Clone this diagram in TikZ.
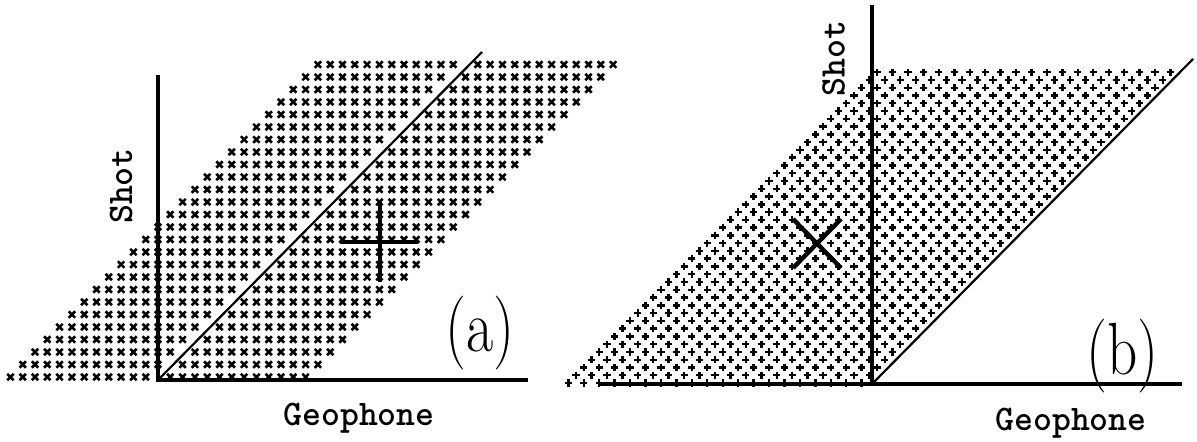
\documentclass[tikz,border=0pt]{standalone}
\usepackage{fontspec}
\begin{document}
\begin{tikzpicture}[x=0.5pt,y=-0.5pt,
  axis/.style={line width=1.8pt},
  diag/.style={line width=1.1pt},
  big/.style={line width=2.2pt},
  lab/.style={font=\fontsize{18}{20}\selectfont\ttfamily\bfseries, inner sep=0pt},
  tag/.style={font=\fontsize{37}{40}\selectfont, inner sep=0pt, xscale=0.8},
  xmk/.pic={\draw[line width=1.3pt] (-3.2,-3.2)--(3.2,3.2) (-3.2,3.2)--(3.2,-3.2);},
  pmk/.pic={\draw[line width=1.2pt] (-3.6,0)--(3.6,0) (0,-3.6)--(0,3.6);}]
\useasboundingbox (0,0) rectangle (1197,441);
% ---- panel (a): x lattice
\foreach \j in {0,...,25}{
  \foreach \k in {0,...,24}{
    \pgfmathtruncatemacro{\i}{\k+\j-12}
    \ifnum\i=\j\else
      \pic at ({158+12.3*\i},{377-12.5*\j}) {xmk};
    \fi
  }
}
% ---- panel (b): + lattice
\foreach \n in {0,...,40}{
  \foreach \k in {0,...,19}{
    \pic at ({568.3+7.72*(\n+2*\k)},{383-7.77*\n}) {pmk};
  }
}
% ---- axes (a)
\coordinate (aO) at (158,380);
\coordinate (aT) at (158,75);
\coordinate (aR) at (528,380);
\coordinate (aD) at (482,52);
\draw[axis] (aT) -- (aO) -- (aR);
\draw[diag] (aO) -- (aD);
% big plus
\coordinate (pL) at (340,242);
\coordinate (pR) at (418,242);
\coordinate (pT) at (380,202);
\coordinate (pB) at (380,282);
\draw[big] (pL) -- (pR) (pT) -- (pB);
% ---- axes (b)
\coordinate (bO) at (872,384);
\coordinate (bT) at (872,5);
\coordinate (bL) at (598,384);
\coordinate (bR) at (1182,384);
\coordinate (bD) at (1193,59);
\draw[axis] (bT) -- (bO);
\draw[axis] (bL) -- (bR);
\draw[diag] (bO) -- (bD);
% big X
\coordinate (x1) at (793,219);
\coordinate (x2) at (841,268);
\coordinate (x3) at (841,219);
\coordinate (x4) at (793,268);
\draw[big] (x1) -- (x2) (x3) -- (x4);
% ---- labels
\node[lab, rotate=90] (shotA) at (121,186) {Shot};
\node[lab, anchor=base west] (geoA) at (283,425) {Geophone};
\node[tag] (tagA) at (480,333.5) {(a)};
\node[lab, rotate=90] (shotB) at (833.5,58.5) {Shot};
\node[lab, anchor=base west] (geoB) at (995,430) {Geophone};
\node[tag] (tagB) at (1122.5,356.5) {(b)};
\end{tikzpicture}
\end{document}
